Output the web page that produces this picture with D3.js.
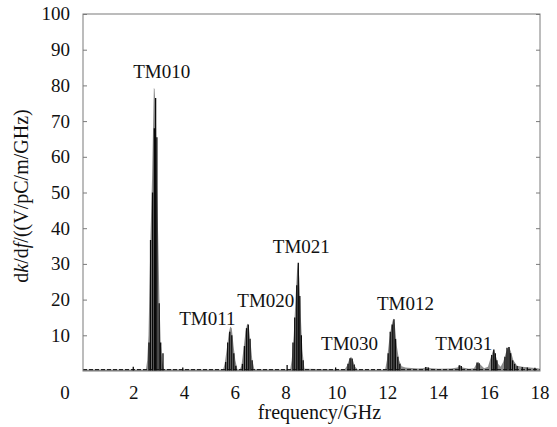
<!DOCTYPE html>
<html>
<head>
<meta charset="utf-8">
<script src="https://cdn.jsdelivr.net/npm/d3@7"></script>
<style>
    body { margin: 0; background: #fff; }
    svg text { font-family: 'Liberation Serif', 'DejaVu Serif', 'Noto Serif', serif; }
</style>
</head>
<body>
<div id="plot"></div>
<script>
'use strict';

// gray envelope of the spectrum (GHz, V/pC/m/GHz)
const envFreq = [0, 2.48, 2.53, 2.58, 2.66, 2.72, 2.79, 2.82, 2.87, 2.92, 2.96, 3.01, 3.06, 3.12, 3.18,
    5.52, 5.58, 5.66, 5.74, 5.80, 5.86, 5.93, 6.00, 6.08,
    6.18, 6.24, 6.32, 6.40, 6.47, 6.53, 6.60, 6.67, 6.75,
    8.16, 8.22, 8.30, 8.37, 8.43, 8.47, 8.52, 8.58, 8.64, 8.72,
    10.30, 10.40, 10.50, 10.56, 10.63, 10.72, 10.82,
    11.90, 11.97, 12.05, 12.14, 12.22, 12.28, 12.36, 12.45, 12.55, 12.70,
    12.80, 13.20, 13.40, 13.53, 13.70, 14.00, 14.50, 14.75, 14.85, 14.95, 15.20, 15.40, 15.50, 15.57,
    15.65, 15.80, 15.95, 16.05, 16.14, 16.19, 16.25, 16.35, 16.45, 16.55, 16.65, 16.74, 16.78, 16.85,
    16.95, 17.10, 17.30, 17.60, 17.90, 18];
const envValue = [0.4, 0.4, 3, 10, 38, 54, 79.3, 79, 72, 50, 38, 20, 8, 3, 0.5,
    0.4, 2, 6, 10.5, 12.5, 12, 7, 3, 0.5,
    0.4, 1.5, 6, 11, 13.3, 12.5, 8, 3, 0.5,
    0.4, 3, 10, 20, 28, 30.3, 26, 15, 6, 0.6,
    0.4, 1.5, 3.5, 4, 3, 1.2, 0.4,
    0.4, 3, 8, 12.5, 14.7, 13, 7, 3, 1.3, 1.0,
    0.9, 0.7, 0.8, 1.1, 0.8, 0.6, 0.7, 1.0, 1.7, 1.0, 0.6, 0.8, 2.0, 2.6,
    1.8, 0.8, 1.2, 3.5, 5.5, 6.1, 4.5, 2, 1.2, 2.5, 5, 6.6, 6.8, 5.5,
    3, 1.5, 1.2, 1.0, 0.8, 0.6];

// black stems
const stemFreq = [1.98, 2.60, 2.66, 2.74, 2.81, 2.86, 2.91, 3.00, 3.06, 3.15, 3.93,
    5.62, 5.70, 5.78, 5.86, 5.94, 6.02,
    6.28, 6.36, 6.44, 6.51, 6.58, 6.66,
    8.04, 8.27, 8.34, 8.42, 8.48, 8.54, 8.60, 8.67,
    9.95, 10.44, 10.52, 10.60, 10.68,
    12.02, 12.10, 12.18, 12.25, 12.31, 12.40, 12.48,
    13.50, 13.60, 14.82, 14.90, 15.52, 15.60, 16.10, 16.18, 16.24, 16.30,
    16.62, 16.70, 16.78, 16.84, 16.92, 17.00, 17.10, 17.30, 17.50, 17.80];
const stemValue = [1.2, 8, 36.7, 50, 68, 76.5, 65.5, 19, 8, 5, 1,
    2.5, 8, 11, 10, 5, 1.5,
    2, 7, 12, 13, 9, 3,
    1.7, 8, 15, 24, 30.3, 21, 10, 3,
    1, 2, 3.6, 3.5, 1.8,
    5, 11, 13, 14.5, 9, 4, 2,
    1.1, 1.0, 1.6, 1.4, 2.4, 2.2, 4.5, 6.0, 5, 3,
    4, 6.5, 6.7, 5, 3, 2, 1.4, 1.1, 1.0, 0.9];

const floorLevel = 0.4;

const modeNames = ['TM010', 'TM011', 'TM020', 'TM021', 'TM030', 'TM012', 'TM031'];
const modeFreq = [3.1, 4.9, 7.2, 8.6, 10.5, 12.7, 15.0];
const modeValue = [82, 13, 18, 33, 6, 17, 5.8];

const xTicks = [0, 2, 4, 6, 8, 10, 12, 14, 16, 18];
const yTicks = [10, 20, 30, 40, 50, 60, 70, 80, 90, 100];

let svgWidth = 557,
    svgHeight = 427,
    margin = {top: 14, right: 17, bottom: 56, left: 83},
    chartWidth = svgWidth - margin.left - margin.right,
    chartHeight = svgHeight - margin.top - margin.bottom,
    fontSize = 19,
    svg = d3.select('#plot').append('svg')
        .attr('width', svgWidth)
        .attr('height', svgHeight),
    chartGroup = svg.append('g')
        .attr('transform', `translate(${margin.left}, ${margin.top})`);

let xScale = d3.scaleLinear().domain([0, 18]).range([0, chartWidth]);
let yScale = d3.scaleLinear().domain([0, 100]).range([chartHeight, 0]);

let envelope = envFreq.map((f, i) => ({f: f, v: envValue[i]}));
let stems = stemFreq.map((f, i) => ({f: f, v: stemValue[i]}));

// gray area
let area = d3.area()
    .x(d => xScale(d.f))
    .y0(yScale(0))
    .y1(d => yScale(d.v));

chartGroup.append('path')
    .datum(envelope)
    .attr('d', area)
    .attr('fill', '#8c8c8c');

// noise floor, dashed
chartGroup.append('line')
    .attr('x1', xScale(0))
    .attr('x2', xScale(18))
    .attr('y1', yScale(floorLevel))
    .attr('y2', yScale(floorLevel))
    .attr('stroke', '#222')
    .attr('stroke-width', 1.2)
    .attr('stroke-dasharray', '4,2');

chartGroup.append('g')
    .selectAll('line')
    .data(stems).enter().append('line')
    .attr('x1', d => xScale(d.f))
    .attr('x2', d => xScale(d.f))
    .attr('y1', yScale(0))
    .attr('y2', d => yScale(d.v))
    .attr('stroke', '#0a0a0a')
    .attr('stroke-width', 1.3);

// frame with inward ticks
chartGroup.append('rect')
    .attr('width', chartWidth)
    .attr('height', chartHeight)
    .attr('fill', 'none')
    .attr('stroke', '#7a7a7a')
    .attr('stroke-width', 1);

let leftAxis = d3.axisRight(yScale).tickValues(yTicks).tickSize(4).tickFormat('');
let rightAxis = d3.axisLeft(yScale).tickValues(yTicks).tickSize(4).tickFormat('');
chartGroup.append('g').call(leftAxis);
chartGroup.append('g').attr('transform', `translate(${chartWidth}, 0)`).call(rightAxis);
chartGroup.selectAll('.domain').remove();
chartGroup.selectAll('.tick line').attr('stroke', '#7a7a7a');
chartGroup.selectAll('.tick text').remove();

// tick labels
chartGroup.append('g')
    .selectAll('text')
    .data(yTicks).enter().append('text')
    .attr('x', -13)
    .attr('y', d => yScale(d))
    .attr('dy', '0.34em')
    .attr('text-anchor', 'end')
    .attr('font-size', fontSize)
    .attr('fill', '#111')
    .text(d => d);

chartGroup.append('g')
    .selectAll('text')
    .data(xTicks).enter().append('text')
    .attr('x', d => d === 0 ? xScale(d) - 18 : xScale(d))
    .attr('y', chartHeight + 28)
    .attr('text-anchor', 'middle')
    .attr('font-size', fontSize)
    .attr('fill', '#111')
    .text(d => d);

// mode labels
chartGroup.append('g')
    .selectAll('text')
    .data(modeNames).enter().append('text')
    .attr('x', (d, i) => xScale(modeFreq[i]))
    .attr('y', (d, i) => yScale(modeValue[i]))
    .attr('text-anchor', 'middle')
    .attr('font-size', fontSize)
    .attr('fill', '#111')
    .text(d => d);

// axis titles
chartGroup.append('text')
    .attr('x', chartWidth / 2 + 8)
    .attr('y', chartHeight + 48)
    .attr('text-anchor', 'middle')
    .attr('font-size', 20)
    .attr('fill', '#111')
    .text('frequency/GHz');

let yLabel = chartGroup.append('text')
    .attr('transform', `translate(${-55}, ${182}) rotate(-90)`)
    .attr('text-anchor', 'middle')
    .attr('font-size', 20)
    .attr('fill', '#111');
yLabel.append('tspan').text('d');
yLabel.append('tspan').attr('font-style', 'italic').text('k');
yLabel.append('tspan').text('/d');
yLabel.append('tspan').attr('font-style', 'italic').text('f');
yLabel.append('tspan').text('/((V/pC/m/GHz)');
</script>
</body>
</html>
